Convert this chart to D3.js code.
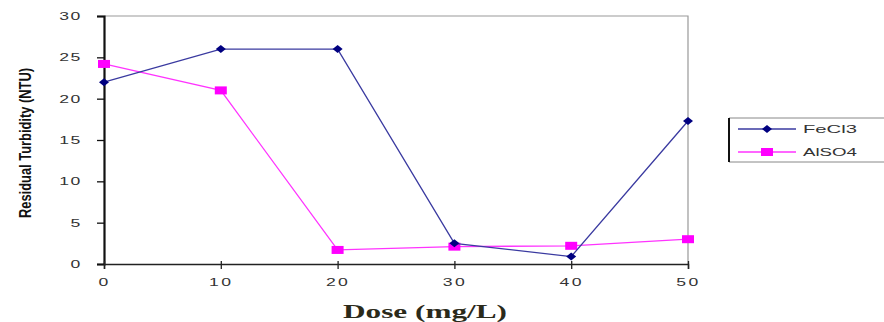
<!DOCTYPE html>
<html>
<head>
<meta charset="utf-8">
<script src="https://cdn.jsdelivr.net/npm/d3@7"></script>
<style>
  body { margin: 0; background: #fff; }
  svg { display: block; }
</style>
</head>
<body>
<svg id="svg" width="884" height="322"></svg>
<script>
// data
const doses = [0, 10, 20, 30, 40, 50];
const fecl3 = [22, 26, 26, 2.5, 0.9, 17.3];
const also4 = [24.2, 21, 1.7, 2.1, 2.2, 3];
const yTicks = [0, 5, 10, 15, 20, 25, 30];
const seriesNames = ["FeCl3", "AlSO4"];

const mLeft = 104, mRight = 688, mTop = 16, mBottom = 264;
const stretch = 1.6; // the old picture has wide, squat lettering
const svg = d3.select("#svg");

const x = d3.scaleLinear().domain([0, 50]).range([mLeft, mRight]);
const y = d3.scaleLinear().domain([0, 30]).range([mBottom, mTop]);

// wide diamond marker
const diamond = "M-5,0L0,-4L5,0L0,4Z";

// plot frame (top and right in gray)
svg.append("path")
  .attr("d", `M${mLeft},${mTop}H${mRight}V${mBottom}`)
  .attr("fill", "none")
  .attr("stroke", "#999")
  .attr("stroke-width", 1.2);

// y axis
const yAxis = svg.append("g")
  .attr("transform", `translate(${mLeft},0)`)
  .call(d3.axisLeft(y).tickValues(yTicks).tickSize(7));
yAxis.select(".domain").attr("stroke", "#111").attr("stroke-width", 2.2);
yAxis.selectAll(".tick line").attr("stroke", "#111").attr("stroke-width", 1.3);
yAxis.selectAll("text")
  .attr("x", -22 / stretch)
  .attr("transform", `scale(${stretch},1)`)
  .attr("font-family", "Arial, 'Liberation Sans', sans-serif")
  .attr("font-size", 11)
  .attr("letter-spacing", 1)
  .attr("fill", "#333");

// x axis
const xAxis = svg.append("g")
  .attr("transform", `translate(0,${mBottom})`)
  .call(d3.axisBottom(x).tickValues(doses).tickSize(5).tickPadding(9));
xAxis.select(".domain").attr("stroke", "#222").attr("stroke-width", 1.5);
xAxis.selectAll(".tick line").attr("stroke", "#222").attr("stroke-width", 1.3).attr("y1", -3);
xAxis.selectAll("text")
  .attr("transform", `scale(${stretch},1)`)
  .attr("font-family", "Arial, 'Liberation Sans', sans-serif")
  .attr("font-size", 11)
  .attr("letter-spacing", 1.5)
  .attr("fill", "#333");

// axis titles
svg.append("text")
  .attr("transform", `translate(31,${(mTop + mBottom) / 2 + 3}) rotate(-90)`)
  .attr("text-anchor", "middle")
  .attr("font-family", "'Liberation Sans Narrow', 'Arial Narrow', sans-serif")
  .attr("font-weight", "bold")
  .attr("font-size", 16)
  .attr("textLength", 150)
  .attr("lengthAdjust", "spacingAndGlyphs")
  .attr("fill", "#111")
  .text("Residual Turbidity (NTU)");

svg.append("text")
  .attr("x", 425)
  .attr("y", 318)
  .attr("text-anchor", "middle")
  .attr("font-family", "'Liberation Serif', 'Times New Roman', serif")
  .attr("font-weight", "bold")
  .attr("font-size", 18)
  .attr("textLength", 164)
  .attr("lengthAdjust", "spacingAndGlyphs")
  .attr("fill", "#2b2a1a")
  .text("Dose (mg/L)");

// lines
const line = d3.line().x((d, i) => x(doses[i])).y(d => y(d));

svg.append("path").datum(also4)
  .attr("d", line).attr("fill", "none")
  .attr("stroke", "#ff33ff").attr("stroke-width", 1.3);
svg.selectAll(".sq").data(also4).enter().append("rect")
  .attr("x", (d, i) => x(doses[i]) - 6)
  .attr("y", d => y(d) - 4)
  .attr("width", 12).attr("height", 8)
  .attr("fill", "#ff00ff");

svg.append("path").datum(fecl3)
  .attr("d", line).attr("fill", "none")
  .attr("stroke", "#3a3aa0").attr("stroke-width", 1.3);
svg.selectAll(".dm").data(fecl3).enter().append("path")
  .attr("transform", (d, i) => `translate(${x(doses[i])},${y(d)})`)
  .attr("d", diamond)
  .attr("fill", "#000080");

// legend
const lg = svg.append("g");
lg.append("path")
  .attr("d", "M884,118H729V162H884")
  .attr("fill", "none").attr("stroke", "#888").attr("stroke-width", 1);
lg.append("line").attr("x1", 729).attr("x2", 729).attr("y1", 118).attr("y2", 162)
  .attr("stroke", "#111").attr("stroke-width", 2);
const ly = [129, 152];
const colors = ["#3a3aa0", "#ff33ff"];
seriesNames.forEach((name, i) => {
  lg.append("line").attr("x1", 738).attr("x2", 796).attr("y1", ly[i]).attr("y2", ly[i])
    .attr("stroke", colors[i]).attr("stroke-width", 1.3);
  if (i === 0) {
    lg.append("path").attr("transform", `translate(767,${ly[i]})`)
      .attr("d", diamond).attr("fill", "#000080");
  } else {
    lg.append("rect").attr("x", 761).attr("y", ly[i] - 4).attr("width", 12).attr("height", 8)
      .attr("fill", "#ff00ff");
  }
  lg.append("text").attr("x", 803).attr("y", ly[i] + 4)
    .attr("font-family", "Arial, 'Liberation Sans', sans-serif")
    .attr("font-size", 11)
    .attr("textLength", 54)
    .attr("lengthAdjust", "spacingAndGlyphs")
    .attr("fill", "#333")
    .text(name);
});
</script>
</body>
</html>
